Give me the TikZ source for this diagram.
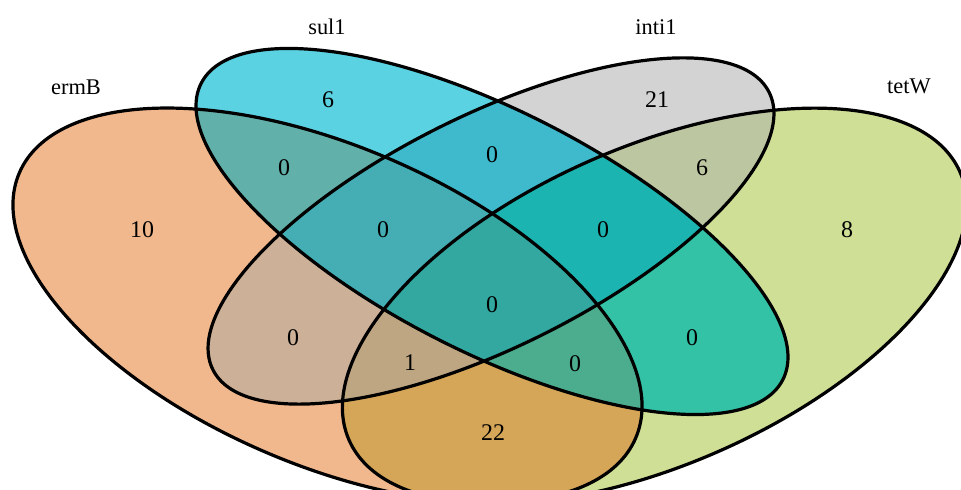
\documentclass[tikz,border=0pt]{standalone}
\usepackage{fontspec}
\setmainfont{Liberation Serif}
\definecolor{cE}{RGB}{242,184,141}
\definecolor{cS}{RGB}{90,210,226}
\definecolor{cI}{RGB}{211,211,211}
\definecolor{cT}{RGB}{207,223,149}
\definecolor{cES}{RGB}{98,176,170}
\definecolor{cEI}{RGB}{204,176,152}
\definecolor{cET}{RGB}{214,166,88}
\definecolor{cSI}{RGB}{62,186,204}
\definecolor{cST}{RGB}{52,194,166}
\definecolor{cIT}{RGB}{188,198,160}
\definecolor{cESI}{RGB}{68,174,180}
\definecolor{cEST}{RGB}{76,172,142}
\definecolor{cEIT}{RGB}{190,166,130}
\definecolor{cSIT}{RGB}{28,180,176}
\definecolor{cESIT}{RGB}{50,168,160}
\newcommand\EllE[1]{#1[rotate around={-23.3:(327.5,184.5)}] (327.5,184.5) ellipse (335.5bp and 159.2bp);}
\newcommand\EllS[1]{#1[rotate around={-27:(492,258.5)}] (492,258.5) ellipse (326.4bp and 120.6bp);}
\newcommand\EllI[1]{#1[rotate around={26.5:(491,259)}] (491,259) ellipse (310.8bp and 115.8bp);}
\newcommand\EllT[1]{#1[rotate around={23.7:(654.5,184)}] (654.5,184) ellipse (333.6bp and 158.9bp);}
\begin{document}
\begin{tikzpicture}[x=1bp,y=1bp,
  outline/.style={draw=black,line width=3.2bp},
  numlbl/.style={font=\fontsize{24}{24}\selectfont,inner sep=0pt},
  setlbl/.style={font=\fontsize{22.5}{22.5}\selectfont,inner sep=0pt}]
\clip (0,0) rectangle (961,490);
\fill[white] (0,0) rectangle (961,490);
% singles
\EllE{\fill[cE]}
\EllT{\fill[cT]}
\EllI{\fill[cI]}
\EllS{\fill[cS]}
% pairs
\begin{scope}\EllE{\clip}\EllS{\fill[cES]}\end{scope}
\begin{scope}\EllE{\clip}\EllI{\fill[cEI]}\end{scope}
\begin{scope}\EllE{\clip}\EllT{\fill[cET]}\end{scope}
\begin{scope}\EllS{\clip}\EllI{\fill[cSI]}\end{scope}
\begin{scope}\EllS{\clip}\EllT{\fill[cST]}\end{scope}
\begin{scope}\EllI{\clip}\EllT{\fill[cIT]}\end{scope}
% triples
\begin{scope}\EllE{\clip}\EllS{\clip}\EllI{\fill[cESI]}\end{scope}
\begin{scope}\EllE{\clip}\EllS{\clip}\EllT{\fill[cEST]}\end{scope}
\begin{scope}\EllE{\clip}\EllI{\clip}\EllT{\fill[cEIT]}\end{scope}
\begin{scope}\EllS{\clip}\EllI{\clip}\EllT{\fill[cSIT]}\end{scope}
% quadruple
\begin{scope}\EllE{\clip}\EllS{\clip}\EllI{\clip}\EllT{\fill[cESIT]}\end{scope}
% outlines
\EllE{\draw[outline]}
\EllS{\draw[outline]}
\EllI{\draw[outline]}
\EllT{\draw[outline]}
% set labels
\node[setlbl] (lE) at (76,403) {ermB};
\node[setlbl] (lS) at (327,463) {sul1};
\node[setlbl] (lI) at (656,463) {inti1};
\node[setlbl] (lT) at (909,404) {tetW};
% region counts
\node[numlbl] (nS) at (328,390) {6};
\node[numlbl] (nES) at (284,322) {0};
\node[numlbl] (nE) at (142,260) {10};
\node[numlbl] (nESI) at (383,260) {0};
\node[numlbl] (nSI) at (492,335) {0};
\node[numlbl] (nI) at (657,390) {21};
\node[numlbl] (nIT) at (702,322) {6};
\node[numlbl] (nSIT) at (603,260) {0};
\node[numlbl] (nT) at (847,260) {8};
\node[numlbl] (nESIT) at (492,185) {0};
\node[numlbl] (nEI) at (293,152) {0};
\node[numlbl] (nEIT) at (410,127) {1};
\node[numlbl] (nEST) at (575,126) {0};
\node[numlbl] (nST) at (692,152) {0};
\node[numlbl] (nET) at (493,57) {22};
\end{tikzpicture}
\end{document}
